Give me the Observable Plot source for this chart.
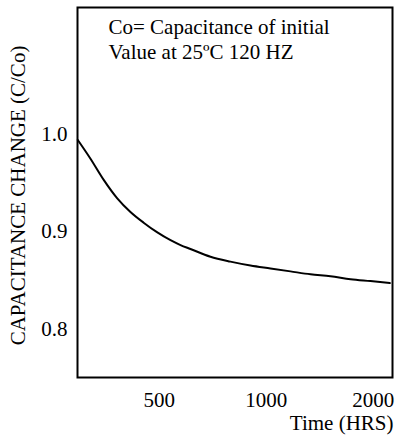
<!DOCTYPE html>
<html><head><meta charset="utf-8">
<script src="https://cdn.jsdelivr.net/npm/d3@7"></script>
<script src="https://cdn.jsdelivr.net/npm/@observablehq/plot@0.6"></script>
<style>body{margin:0;background:#fff}</style>
</head><body><div id="chart"></div>
<script>
const hours = [295, 320, 349, 381, 415, 452, 494, 538, 574, 612, 697, 793, 903, 1028, 1170, 1332, 1516, 1727, 1965, 2227];
const ratio = [0.994, 0.975, 0.953, 0.934, 0.920, 0.909, 0.899, 0.891, 0.886, 0.882, 0.874, 0.869, 0.865, 0.862, 0.859, 0.856, 0.854, 0.851, 0.849, 0.847];
const xTicks = [500, 1000, 2000];
const yTicks = [0.8, 0.9, 1.0];
const yTitle = "CAPACITANCE CHANGE (C/Co)";
const xTitle = "Time (HRS)";
const note = "Co= Capacitance of initial\nValue at 25ºC 120 HZ";

const data = hours.map((h, i) => ({h, r: ratio[i]}));
const fs = 21;

const chart = Plot.plot({
  width: 399,
  height: 436,
  marginLeft: 77,
  marginRight: 7,
  marginTop: 7,
  marginBottom: 59,
  style: {fontFamily: "'Liberation Serif', 'Times New Roman', serif", fontSize: "21px", background: "white", color: "black"},
  x: {type: "log", domain: [294.5, 2266], axis: null},
  y: {domain: [0.75, 1.13]},
  marks: [
    Plot.text(xTicks, {x: d => d, frameAnchor: "bottom", textAnchor: "middle", lineAnchor: "middle", dy: 23, text: d => d3.format("d")(d), fontSize: fs, fill: "black"}),
    Plot.axisY(yTicks, {tickSize: 0, tickPadding: 10, fontSize: fs, tickFormat: d3.format(".1f"), label: null}),
    Plot.frame({stroke: "black", strokeWidth: 2}),
    Plot.line(data, {x: "h", y: "r", curve: "monotone-x", stroke: "black", strokeWidth: 2}),
    Plot.text([yTitle], {frameAnchor: "left", textAnchor: "middle", lineAnchor: "middle", rotate: -90, dx: -59.5, dy: 3, fontSize: fs, fill: "black"}),
    Plot.text([note], {frameAnchor: "top-left", textAnchor: "start", lineAnchor: "top", dx: 31, dy: 9, lineHeight: 1.19, fontSize: fs, fill: "black"}),
    Plot.text([xTitle], {frameAnchor: "bottom-right", textAnchor: "end", lineAnchor: "bottom", dx: 1, dy: 52, fontSize: fs, fill: "black"})
  ]
});
document.getElementById("chart").appendChild(chart);
</script>
</body></html>
